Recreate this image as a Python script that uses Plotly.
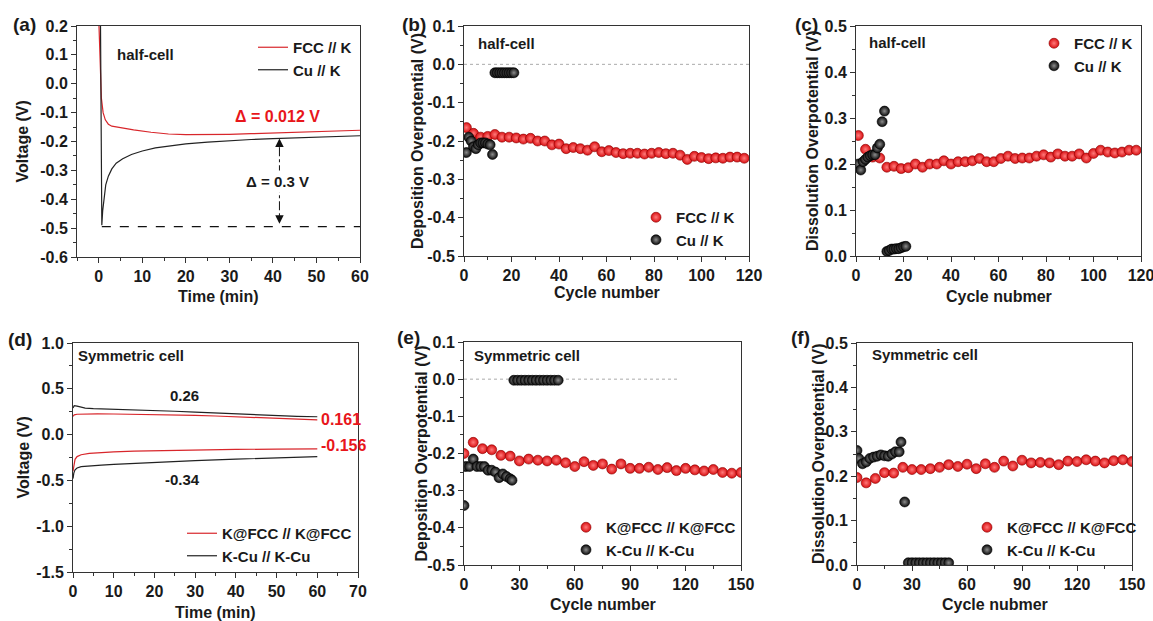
import plotly.graph_objects as go

# ---------------- data ----------------
# (a) half-cell voltage profiles
a_t_fcc = [0.05, 0.3, 0.6, 1.0, 1.5, 2.2, 3.0, 5.0, 8.0, 12.0, 16.0, 20.0, 25.0, 30.0, 35.0, 40.0, 45.0, 50.0, 55.0, 60.0]
a_v_fcc = [0.2, 0.05, -0.05, -0.1, -0.125, -0.14, -0.147, -0.152, -0.16, -0.168, -0.174, -0.176, -0.176, -0.175, -0.173, -0.171, -0.169, -0.167, -0.164, -0.161]
a_t_cu = [0.4, 0.55, 0.7, 0.9, 1.2, 1.6, 2.2, 3.0, 4.0, 5.5, 7.5, 10.0, 13.0, 16.0, 20.0, 25.0, 30.0, 35.0, 40.0, 45.0, 50.0, 55.0, 60.0]
a_v_cu = [0.2, -0.2, -0.49, -0.44, -0.39, -0.35, -0.32, -0.295, -0.275, -0.26, -0.245, -0.233, -0.222, -0.215, -0.208, -0.202, -0.197, -0.193, -0.19, -0.187, -0.185, -0.182, -0.18]

# (b) half-cell deposition overpotential
b_cyc_fcc = [1, 4, 7, 10, 13, 16, 19, 22, 25, 28, 31, 34, 37, 40, 43, 46, 49, 52, 55, 58,
             61, 64, 67, 70, 73, 76, 79, 82, 85, 88, 91, 94, 97, 100, 103, 106, 109, 112, 115, 118]
b_val_fcc = [-0.165, -0.18, -0.19, -0.188, -0.183, -0.19, -0.19, -0.192, -0.195, -0.193, -0.2, -0.2, -0.21, -0.208,
             -0.22, -0.217, -0.22, -0.224, -0.215, -0.228, -0.225, -0.23, -0.233, -0.232, -0.232, -0.234, -0.232,
             -0.23, -0.233, -0.232, -0.237, -0.248, -0.24, -0.243, -0.246, -0.244, -0.245, -0.242, -0.242, -0.245]
b_cyc_cu = [1, 2, 3, 4, 5, 6, 7, 8, 9, 10, 11, 12, 13, 14, 15, 16, 17, 18, 19, 20, 21]
b_val_cu = [-0.23, -0.19, -0.2, -0.215, -0.22, -0.21, -0.205, -0.205, -0.205, -0.208, -0.21, -0.235,
            -0.022, -0.022, -0.022, -0.022, -0.022, -0.022, -0.022, -0.022, -0.022]

# (c) half-cell dissolution overpotential
c_cyc_fcc = [1, 4, 7, 10, 13, 16, 19, 22, 25, 28, 31, 34, 37, 40, 43, 46, 49, 52, 55, 58,
             61, 64, 67, 70, 73, 76, 79, 82, 85, 88, 91, 94, 97, 100, 103, 106, 109, 112, 115, 118]
c_val_fcc = [0.262, 0.232, 0.215, 0.213, 0.193, 0.195, 0.19, 0.192, 0.2, 0.193, 0.2, 0.2, 0.207, 0.2,
             0.205, 0.205, 0.207, 0.212, 0.205, 0.205, 0.212, 0.217, 0.212, 0.213, 0.213, 0.217, 0.22,
             0.215, 0.222, 0.217, 0.217, 0.222, 0.213, 0.223, 0.23, 0.226, 0.224, 0.226, 0.23, 0.23]
c_cyc_cu = [1, 2, 3, 4, 5, 6, 7, 8, 9, 10, 11, 12, 13, 14, 15, 16, 17, 18, 19, 20, 21]
c_val_cu = [0.2, 0.187, 0.205, 0.21, 0.215, 0.218, 0.22, 0.22, 0.235, 0.243, 0.292, 0.315,
            0.01, 0.012, 0.015, 0.015, 0.016, 0.016, 0.018, 0.02, 0.021]

# (d) symmetric-cell voltage profiles
d_t_fcc_up = [0, 0.3, 1, 3, 6, 10, 15, 20, 25, 30, 35, 40, 45, 50, 55, 60]
d_v_fcc_up = [0.2, 0.215, 0.222, 0.225, 0.226, 0.225, 0.223, 0.22, 0.215, 0.21, 0.203, 0.195, 0.187, 0.178, 0.17, 0.161]
d_t_cu_up = [0, 0.3, 1, 2, 3, 5, 10, 15, 20, 25, 30, 35, 40, 45, 50, 55, 60]
d_v_cu_up = [0.29, 0.315, 0.31, 0.3, 0.29, 0.283, 0.278, 0.273, 0.265, 0.255, 0.245, 0.235, 0.225, 0.215, 0.207, 0.2, 0.195]
d_t_fcc_dn = [0, 0.2, 0.5, 1, 2, 4, 7, 10, 15, 20, 30, 40, 50, 60]
d_v_fcc_dn = [-0.4, -0.32, -0.27, -0.24, -0.22, -0.205, -0.195, -0.188, -0.18, -0.175, -0.168, -0.162, -0.158, -0.156]
d_t_cu_dn = [0, 0.2, 0.5, 1, 2, 4, 7, 10, 15, 20, 30, 40, 50, 60]
d_v_cu_dn = [-0.48, -0.42, -0.385, -0.365, -0.35, -0.34, -0.333, -0.325, -0.313, -0.303, -0.285, -0.268, -0.252, -0.24]

# (e) symmetric-cell deposition overpotential
e_cyc_fcc = [0, 5, 10, 15, 20, 25, 30, 35, 40, 45, 50, 55, 60, 65, 70, 75, 80, 85, 90, 95,
             100, 105, 110, 115, 120, 125, 130, 135, 140, 145, 150]
e_val_fcc = [-0.2, -0.17, -0.187, -0.19, -0.205, -0.207, -0.22, -0.215, -0.218, -0.22, -0.218, -0.225,
             -0.235, -0.222, -0.232, -0.228, -0.242, -0.228, -0.24, -0.24, -0.237, -0.243, -0.238,
             -0.246, -0.24, -0.244, -0.247, -0.243, -0.251, -0.253, -0.251]
e_cyc_cu = [0, 1, 3, 5, 7, 9, 11, 13, 15, 17, 19, 21, 23, 25, 26,
            27, 29, 31, 33, 35, 37, 39, 41, 43, 45, 47, 49, 51]
e_val_cu = [-0.34, -0.235, -0.235, -0.215, -0.235, -0.235, -0.235, -0.245, -0.245, -0.25, -0.265, -0.255,
            -0.262, -0.268, -0.272,
            -0.003, -0.003, -0.003, -0.003, -0.003, -0.003, -0.003, -0.003, -0.003, -0.003, -0.003, -0.003, -0.003]

# (f) symmetric-cell dissolution overpotential
f_cyc_fcc = [0, 5, 10, 15, 20, 25, 30, 35, 40, 45, 50, 55, 60, 65, 70, 75, 80, 85, 90, 95,
             100, 105, 110, 115, 120, 125, 130, 135, 140, 145, 150]
f_val_fcc = [0.197, 0.185, 0.195, 0.208, 0.207, 0.22, 0.215, 0.215, 0.217, 0.22, 0.226, 0.222, 0.227,
             0.217, 0.228, 0.22, 0.234, 0.223, 0.236, 0.23, 0.231, 0.23, 0.226, 0.234, 0.233, 0.237,
             0.234, 0.23, 0.235, 0.237, 0.233]
f_cyc_cu = [0, 1, 3, 5, 7, 9, 11, 13, 15, 17, 19, 21, 23, 24, 26,
            28, 30, 32, 34, 36, 38, 40, 42, 44, 46, 48, 50]
f_val_cu = [0.258, 0.24, 0.228, 0.232, 0.24, 0.243, 0.245, 0.248, 0.246, 0.245, 0.25, 0.255, 0.255, 0.277, 0.142,
            0.005, 0.005, 0.005, 0.005, 0.005, 0.005, 0.005, 0.005, 0.005, 0.005, 0.005, 0.005]

# tick labels
a_yticks = [0.2, 0.1, 0.0, -0.1, -0.2, -0.3, -0.4, -0.5, -0.6]
a_ylabels = ["0.2", "0.1", "0.0", "-0.1", "-0.2", "-0.3", "-0.4", "-0.5", "-0.6"]
b_yticks = [0.1, 0.0, -0.1, -0.2, -0.3, -0.4, -0.5]
b_ylabels = ["0.1", "0.0", "-0.1", "-0.2", "-0.3", "-0.4", "-0.5"]
c_yticks = [0.0, 0.1, 0.2, 0.3, 0.4, 0.5]
c_ylabels = ["0.0", "0.1", "0.2", "0.3", "0.4", "0.5"]
d_yticks = [1.0, 0.5, 0.0, -0.5, -1.0, -1.5]
d_ylabels = ["1.0", "0.5", "0.0", "-0.5", "-1.0", "-1.5"]

# ---------------- style ----------------
FONT = "Liberation Sans"
RED_LINE = "#d8262b"
RED = "#e8161b"
AX = "#333333"
W, H = 1153, 621


def xd(p0, p1):   # pixels -> x domain
    return [p0 / W, p1 / W]


def yd(top, bottom):   # pixels -> y domain
    return [1 - bottom / H, 1 - top / H]


def px(x):
    return x / W


def py(y):
    return 1 - y / H


def axis(domain, rng, anchor, dtick=None, minor=None, tickvals=None, ticktext=None):
    d = dict(domain=domain, range=rng, anchor=anchor, showline=True, linecolor=AX, linewidth=1,
             mirror=True, ticks="outside", ticklen=5, tickwidth=1, tickcolor=AX,
             showgrid=False, zeroline=False, automargin=False, ticklabeloverflow="allow",
             tickfont=dict(family=FONT, size=16, color="#1a1a1a", weight="bold"))
    if tickvals is not None:
        d.update(tickmode="array", tickvals=tickvals, ticktext=ticktext)
    else:
        d.update(tickmode="linear", tick0=0, dtick=dtick)
    if minor is not None:
        d["minor"] = dict(tickmode="linear", tick0=0, dtick=minor, ticks="outside", ticklen=3,
                          tickwidth=1, tickcolor=AX, showgrid=False)
    return d


def ball(color, center, edge):
    return dict(size=10, color=color, gradient=dict(type="radial", color=center),
                line=dict(width=0.6, color=edge))


RED_BALL = ball("#d90f12", "#ff7a7a", "#8a0000")
BLK_BALL = ball("#0a0a0a", "#8c8c8c", "#000000")

fig = go.Figure()

# (a)
fig.add_trace(go.Scatter(x=a_t_fcc, y=a_v_fcc, mode="lines", name="FCC // K",
                         line=dict(color=RED_LINE, width=1.2), xaxis="x", yaxis="y", legend="legend"))
fig.add_trace(go.Scatter(x=a_t_cu, y=a_v_cu, mode="lines", name="Cu // K",
                         line=dict(color="#222222", width=1.2), xaxis="x", yaxis="y", legend="legend"))
# (b)
fig.add_trace(go.Scatter(x=b_cyc_fcc, y=b_val_fcc, mode="markers", name="FCC // K", marker=RED_BALL,
                         xaxis="x2", yaxis="y2", legend="legend2"))
fig.add_trace(go.Scatter(x=b_cyc_cu, y=b_val_cu, mode="markers", name="Cu // K", marker=BLK_BALL,
                         xaxis="x2", yaxis="y2", legend="legend2"))
# (c)
fig.add_trace(go.Scatter(x=c_cyc_fcc, y=c_val_fcc, mode="markers", name="FCC // K", marker=RED_BALL,
                         xaxis="x3", yaxis="y3", legend="legend3"))
fig.add_trace(go.Scatter(x=c_cyc_cu, y=c_val_cu, mode="markers", name="Cu // K", marker=BLK_BALL,
                         xaxis="x3", yaxis="y3", legend="legend3"))
# (d)
fig.add_trace(go.Scatter(x=d_t_fcc_up, y=d_v_fcc_up, mode="lines", name="K@FCC // K@FCC",
                         line=dict(color=RED_LINE, width=1.2), xaxis="x4", yaxis="y4", legend="legend4",
                         legendgroup="dfcc"))
fig.add_trace(go.Scatter(x=d_t_fcc_dn, y=d_v_fcc_dn, mode="lines", name="K@FCC // K@FCC", showlegend=False,
                         line=dict(color=RED_LINE, width=1.2), xaxis="x4", yaxis="y4", legendgroup="dfcc"))
fig.add_trace(go.Scatter(x=d_t_cu_up, y=d_v_cu_up, mode="lines", name="K-Cu // K-Cu",
                         line=dict(color="#222222", width=1.2), xaxis="x4", yaxis="y4", legend="legend4",
                         legendgroup="dcu"))
fig.add_trace(go.Scatter(x=d_t_cu_dn, y=d_v_cu_dn, mode="lines", name="K-Cu // K-Cu", showlegend=False,
                         line=dict(color="#222222", width=1.2), xaxis="x4", yaxis="y4", legendgroup="dcu"))
# (e)
fig.add_trace(go.Scatter(x=e_cyc_fcc, y=e_val_fcc, mode="markers", name="K@FCC // K@FCC", marker=RED_BALL,
                         xaxis="x5", yaxis="y5", legend="legend5"))
fig.add_trace(go.Scatter(x=e_cyc_cu, y=e_val_cu, mode="markers", name="K-Cu // K-Cu", marker=BLK_BALL,
                         xaxis="x5", yaxis="y5", legend="legend5"))
# (f)
fig.add_trace(go.Scatter(x=f_cyc_fcc, y=f_val_fcc, mode="markers", name="K@FCC // K@FCC", marker=RED_BALL,
                         xaxis="x6", yaxis="y6", legend="legend6"))
fig.add_trace(go.Scatter(x=f_cyc_cu, y=f_val_cu, mode="markers", name="K-Cu // K-Cu", marker=BLK_BALL,
                         xaxis="x6", yaxis="y6", legend="legend6"))


def leg(x_px, top_px):
    return dict(x=px(x_px), y=py(top_px), xanchor="left", yanchor="top", bgcolor="rgba(0,0,0,0)",
                font=dict(family=FONT, size=15, color="#1a1a1a", weight="bold"),
                itemwidth=30, tracegroupgap=0)


ann_font = dict(family=FONT, size=15, color="#1a1a1a", weight="bold")
red_font = dict(family=FONT, size=16, color=RED, weight="bold")
title_font = dict(family=FONT, size=16, color="#1a1a1a", weight="bold")

labels = [("(a)", 24, 25), ("(b)", 414, 25), ("(c)", 806, 25),
          ("(d)", 20, 339), ("(e)", 408, 337), ("(f)", 800, 337)]
annotations = [dict(text=t, x=px(x), y=py(y), xref="paper", yref="paper", showarrow=False,
                    xanchor="center", yanchor="middle",
                    font=dict(family=FONT, size=19, color="#1a1a1a", weight="bold")) for t, x, y in labels]

# axis titles (centre x, centre y in pixels)
x_titles = [("Time (min)", 218.5, 296), ("Cycle number", 606.5, 292), ("Cycle nubmer", 998.5, 296),
            ("Time (min)", 215.5, 612), ("Cycle number", 602.5, 604), ("Cycle nubmer", 994.5, 604)]
y_titles = [("Voltage (V)", 22, 141.5), ("Deposition Overpotential (V)", 417, 141),
            ("Dissolution Overpotential (V)", 812, 141), ("Voltage (V)", 23, 457.5),
            ("Deposition Overpotential (V)", 421, 453.5), ("Dissolution Overpotential (V)", 818, 454)]
for t, x, y in x_titles:
    annotations.append(dict(text=t, x=px(x), y=py(y), xref="paper", yref="paper", showarrow=False,
                            xanchor="center", yanchor="middle", font=title_font))
for t, x, y in y_titles:
    annotations.append(dict(text=t, x=px(x), y=py(y), xref="paper", yref="paper", showarrow=False,
                            xanchor="center", yanchor="middle", textangle=-90, font=title_font))

inner = [
    dict(text="half-cell", x=3.7, y=0.1, xref="x", yref="y", xanchor="left", font=ann_font),
    dict(text="Δ = 0.012 V", x=41, y=-0.115, xref="x", yref="y", xanchor="center", font=red_font),
    dict(text="Δ = 0.3 V", x=41, y=-0.34, xref="x", yref="y", xanchor="center", font=ann_font,
         bgcolor="white", borderpad=2),
    dict(text="half-cell", x=5, y=0.055, xref="x2", yref="y2", xanchor="left", font=ann_font),
    dict(text="half-cell", x=4.6, y=0.464, xref="x3", yref="y3", xanchor="left", font=ann_font),
    dict(text="Symmetric cell", x=0.7, y=0.866, xref="x4", yref="y4", xanchor="left", font=ann_font),
    dict(text="0.26", x=27.5, y=0.43, xref="x4", yref="y4", xanchor="center", font=ann_font),
    dict(text="-0.34", x=27, y=-0.49, xref="x4", yref="y4", xanchor="center", font=ann_font),
    dict(text="0.161", x=60.3, y=0.16, xref="x4", yref="y4", xanchor="left", font=red_font),
    dict(text="-0.156", x=60.3, y=-0.115, xref="x4", yref="y4", xanchor="left", font=red_font),
    dict(text="Symmetric cell", x=4.3, y=0.065, xref="x5", yref="y5", xanchor="left", font=ann_font),
    dict(text="Symmetric cell", x=7, y=0.474, xref="x6", yref="y6", xanchor="left", font=ann_font),
]
for a in inner:
    a["showarrow"] = False
    a["yanchor"] = "middle"
annotations += inner

# arrow heads of the double arrow in (a)
annotations += [
    dict(x=41.5, y=-0.19, ax=41.5, ay=-0.225, xref="x", yref="y", axref="x", ayref="y", text="",
         showarrow=True, arrowhead=2, arrowsize=1.3, arrowwidth=1.3, arrowcolor="#111"),
    dict(x=41.5, y=-0.485, ax=41.5, ay=-0.45, xref="x", yref="y", axref="x", ayref="y", text="",
         showarrow=True, arrowhead=2, arrowsize=1.3, arrowwidth=1.3, arrowcolor="#111"),
]

shapes = [
    dict(type="line", xref="x", yref="y", x0=0.7, x1=60, y0=-0.495, y1=-0.495,
         line=dict(color="#111", width=1.2, dash="dash")),
    dict(type="line", xref="x", yref="y", x0=41.5, x1=41.5, y0=-0.22, y1=-0.455,
         line=dict(color="#111", width=1, dash="dashdot"), layer="below"),
    dict(type="line", xref="x2", yref="y2", x0=0, x1=120, y0=0, y1=0,
         line=dict(color="#aaaaaa", width=1, dash="dot"), layer="below"),
    dict(type="line", xref="x5", yref="y5", x0=0, x1=116, y0=0, y1=0,
         line=dict(color="#aaaaaa", width=1, dash="dot"), layer="below"),
]

fig.update_layout(
    width=W, height=H, margin=dict(l=0, r=0, t=0, b=0),
    paper_bgcolor="white", plot_bgcolor="white",
    font=dict(family=FONT, size=14, color="#1a1a1a"),
    xaxis=axis(xd(77, 360), [-5, 60], "y", dtick=10, minor=5),
    yaxis=axis(yd(26, 257), [-0.6, 0.2], "x", minor=0.05, tickvals=a_yticks, ticktext=a_ylabels),
    xaxis2=axis(xd(464, 749), [0, 120], "y2", dtick=20, minor=10),
    yaxis2=axis(yd(26, 256), [-0.5, 0.1], "x2", minor=0.05, tickvals=b_yticks, ticktext=b_ylabels),
    xaxis3=axis(xd(856, 1141), [0, 120], "y3", dtick=20, minor=10),
    yaxis3=axis(yd(26, 256), [0, 0.5], "x3", minor=0.05, tickvals=c_yticks, ticktext=c_ylabels),
    xaxis4=axis(xd(73, 358), [0, 70], "y4", dtick=10, minor=5),
    yaxis4=axis(yd(343, 572), [-1.5, 1.0], "x4", minor=0.25, tickvals=d_yticks, ticktext=d_ylabels),
    xaxis5=axis(xd(464, 741), [0, 150], "y5", dtick=30, minor=15),
    yaxis5=axis(yd(342, 565), [-0.5, 0.1], "x5", minor=0.05, tickvals=b_yticks, ticktext=b_ylabels),
    xaxis6=axis(xd(857, 1132), [0, 150], "y6", dtick=30, minor=15),
    yaxis6=axis(yd(343, 565), [0, 0.5], "x6", minor=0.05, tickvals=c_yticks, ticktext=c_ylabels),
    legend=leg(253, 31),
    legend2=leg(636, 201),
    legend3=leg(1034, 27),
    legend4=leg(182, 517),
    legend5=leg(566, 511),
    legend6=leg(967, 511),
    annotations=annotations,
    shapes=shapes,
)

# remove the default 8px page margin so the 1153x621 figure fills the window exactly
fig.write_html("out.html", config={"displayModeBar": False},
               post_script="document.body.style.margin='0px';")
